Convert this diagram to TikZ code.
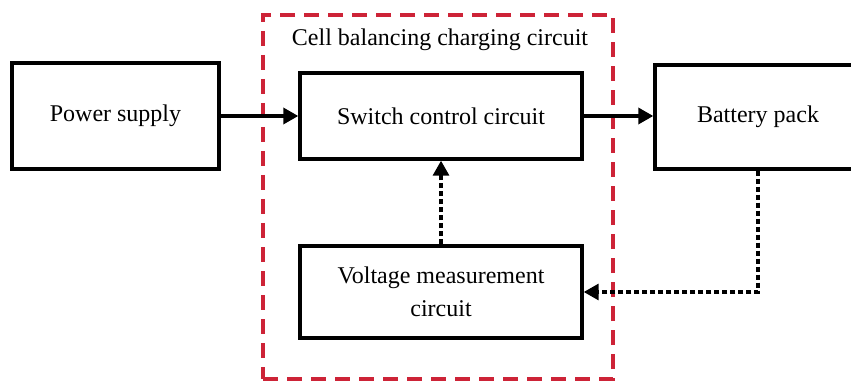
\documentclass[tikz,border=0pt]{standalone}
\usepackage{fontspec}
\setmainfont{Liberation Serif}
\usetikzlibrary{arrows.meta}
\definecolor{grpred}{RGB}{205,35,55}
\tikzset{
  blk/.style={draw=black, line width=3.4pt, align=center, inner sep=0pt,
    font=\fontsize{24}{33}\selectfont},
  solidarrow/.style={line width=3.4pt, -{Triangle[length=15pt,width=16pt]}},
  dotarrow/.style={line width=3.2pt, dash pattern=on 5pt off 3pt, -{Triangle[length=15pt,width=16pt]}},
  group/.style={draw=grpred, line width=3.4pt, dash pattern=on 15pt off 9pt, inner sep=0pt},
  title/.style={font=\fontsize{24}{28}\selectfont, inner sep=0pt}
}
\begin{document}
\begin{tikzpicture}[x=1pt,y=-1pt]
\clip (0,0) rectangle (851,382);
\fill[white] (0,0) rectangle (851,382);
\node[group, minimum width=350pt, minimum height=364pt] (grp) at (438,197) {};
\node[title] (ttl) at (440,40) {Cell balancing charging circuit};
\node[blk, minimum width=207pt, minimum height=106pt] (ps) at (115.5,116) {Power supply};
\node[blk, minimum width=282pt, minimum height=86pt] (sw) at (441,116) {Switch control circuit};
\node[blk, minimum width=206pt, minimum height=104pt] (bp) at (758,117) {Battery pack};
\node[blk, minimum width=282pt, minimum height=92pt] (vm) at (441,292) {Voltage measurement\\circuit};
\coordinate (corner) at (bp.south |- vm.east);
\draw[solidarrow] (ps.east |- sw.west) -- (sw.west);
\draw[solidarrow] (sw.east) -- (sw.east -| bp.west);
\draw[dotarrow] (vm.north) -- (sw.south);
\draw[dotarrow] (bp.south) -- (corner) -- (vm.east);
\end{tikzpicture}
\end{document}
